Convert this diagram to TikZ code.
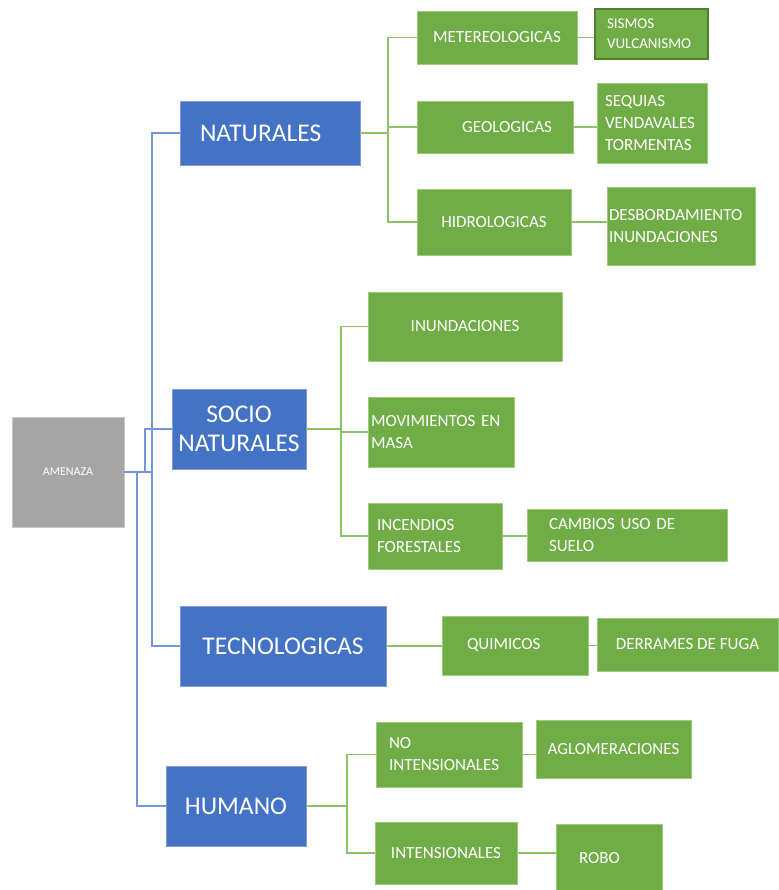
\documentclass[tikz,border=0pt]{standalone}
\usepackage{fontspec}
\setmainfont{Carlito}
\definecolor{blueBox}{HTML}{4472C4}
\definecolor{blueEdge}{HTML}{7F9DD6}
\definecolor{blueLine}{HTML}{7396D8}
\definecolor{greenBox}{HTML}{70AD47}
\definecolor{greenEdge}{HTML}{9CCB7C}
\definecolor{greenDark}{HTML}{4E7E2F}
\definecolor{greenLine}{HTML}{8CC26A}
\definecolor{greyBox}{HTML}{A5A5A5}
\definecolor{greyEdge}{HTML}{C8C8C8}
\tikzset{
  greybox/.style={draw=greyEdge, line width=0.6pt, fill=greyBox, text=white,
    font=\fontsize{12}{14}\selectfont, inner sep=0pt, align=center},
  bluebox/.style={draw=blueEdge, line width=0.6pt, fill=blueBox, text=white,
    font=\fontsize{25.5}{29}\selectfont, inner sep=0pt, align=center},
  greenbox/.style={draw=greenEdge, line width=0.6pt, fill=greenBox, text=white,
    font=\fontsize{17}{22}\selectfont, inner sep=0pt, align=center},
  blueline/.style={draw=blueLine, line width=1.8pt},
  greenline/.style={draw=greenLine, line width=1.8pt},
}
\begin{document}
\begin{tikzpicture}[x=1pt,y=-1pt]
\useasboundingbox (0,0) rectangle (778,890);
\fill[white] (0,0) rectangle (778,890);

% root
\node[greybox, minimum width=112, minimum height=110] (amenaza) at (68,472) {AMENAZA};

% main categories
\node[bluebox, minimum width=180, minimum height=64, text width=140, inner xsep=20, align=left] (naturales) at (270,133) {NATURALES};
\node[bluebox, minimum width=134, minimum height=80] (socio) at (239,429) {SOCIO\\NATURALES};
\node[bluebox, minimum width=206, minimum height=80] (tecno) at (283,646) {TECNOLOGICAS};
\node[bluebox, minimum width=140, minimum height=80] (humano) at (236,806) {HUMANO};

% naturales branch
\node[greenbox, minimum width=160, minimum height=53] (metereo) at (497,37.5) {METEREOLOGICAS};
\node[greenbox, draw=greenDark, line width=1.5pt, minimum width=113, minimum height=50,
      text width=89, inner xsep=12, align=left, font=\fontsize{15}{20}\selectfont] (sismos) at (651.5,34) {SISMOS\\VULCANISMO};
\node[greenbox, minimum width=156, minimum height=52, text width=114, inner xsep=21, align=right] (geolog) at (495,127) {GEOLOGICAS};
\node[greenbox, minimum width=110, minimum height=80, text width=94, inner xsep=8, align=left] (sequias) at (652,123) {SEQUIAS\\VENDAVALES\\TORMENTAS};
\node[greenbox, minimum width=154, minimum height=66] (hidro) at (494,222) {HIDROLOGICAS};
\node[greenbox, minimum width=148, minimum height=78, text width=144, inner xsep=2, align=left] (desbord) at (681,226) {DESBORDAMIENTO\\INUNDACIONES};

% socio naturales branch
\node[greenbox, minimum width=194, minimum height=69] (inund) at (465,326.5) {INUNDACIONES};
\node[greenbox, minimum width=146, minimum height=70, text width=140, inner xsep=3, align=left] (movim) at (441,432) {MOVIMIENTOS EN\\MASA};
\node[greenbox, minimum width=134, minimum height=66, text width=116, inner xsep=9, align=left] (incend) at (435,536) {INCENDIOS\\FORESTALES};
\node[greenbox, minimum width=200, minimum height=52, text width=156, inner xsep=22, align=left] (cambios) at (627,535) {CAMBIOS USO DE\\SUELO};

% tecnologicas branch
\node[greenbox, minimum width=146, minimum height=59, text width=96, inner xsep=25, align=left] (quimicos) at (515,645.5) {QUIMICOS};
\node[greenbox, minimum width=181, minimum height=53] (derrames) at (687.5,644.5) {DERRAMES DE FUGA};

% humano branch
\node[greenbox, minimum width=146, minimum height=65, text width=120, inner xsep=13, align=left] (nointen) at (449,754.5) {NO\\INTENSIONALES};
\node[greenbox, minimum width=155, minimum height=58] (aglomer) at (613.5,749) {AGLOMERACIONES};
\node[greenbox, minimum width=142, minimum height=62] (inten) at (446,853) {INTENSIONALES};
\node[greenbox, minimum width=106, minimum height=68, text width=60, inner xsep=23, align=left] (robo) at (609,858) {ROBO};

% blue trunk from the root
\coordinate (trunkA) at (152,472);
\coordinate (trunkB) at (145,472);
\coordinate (trunkC) at (137,472);
\draw[blueline] (amenaza.east) -- (trunkA);
\draw[blueline] (trunkA) |- (naturales.west);
\draw[blueline] (trunkB) |- (socio.west);
\draw[blueline] (trunkA) |- (tecno.west);
\draw[blueline] (trunkC) |- (humano.west);

% naturales connectors
\coordinate (natbus) at (388,133);
\draw[greenline] (naturales.east) -- (natbus);
\draw[greenline] (natbus) |- (metereo.west);
\draw[greenline] (natbus) |- (geolog.west);
\draw[greenline] (natbus) |- (hidro.west);
\draw[greenline] (metereo.east) -- (metereo.east -| sismos.west);
\draw[greenline] (geolog.east) -- (geolog.east -| sequias.west);
\draw[greenline] (hidro.east) -- (hidro.east -| desbord.west);

% socio naturales connectors
\coordinate (sociobus) at (341,429);
\draw[greenline] (socio.east) -- (sociobus);
\draw[greenline] (sociobus) |- (inund.west);
\draw[greenline] (sociobus) |- (movim.west);
\draw[greenline] (sociobus) |- (incend.west);
\draw[greenline] (incend.east) -- (incend.east -| cambios.west);

% tecnologicas connectors
\draw[greenline] (tecno.east) -- (tecno.east -| quimicos.west);
\draw[greenline] (quimicos.east) -- (quimicos.east -| derrames.west);

% humano connectors
\coordinate (humbus) at (347,806);
\draw[greenline] (humano.east) -- (humbus);
\draw[greenline] (humbus) |- (nointen.west);
\draw[greenline] (humbus) |- (inten.west);
\draw[greenline] (nointen.east) -- (nointen.east -| aglomer.west);
\draw[greenline] (inten.east) -- (inten.east -| robo.west);
\end{tikzpicture}
\end{document}
